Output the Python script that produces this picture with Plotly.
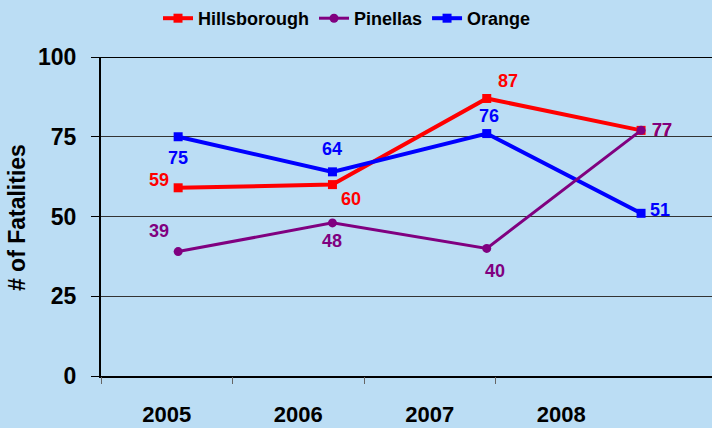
import plotly.graph_objects as go

# ---- data ----
years = ["2005", "2006", "2007", "2008"]
hillsborough = [59, 60, 87, 77]
pinellas = [39, 48, 40, 77]
orange = [75, 64, 76, 51]
y_ticks = [0, 25, 50, 75, 100]
y_title = "# of Fatalities"

# ---- styling ----
BG = "rgb(187,221,244)"
FONT = "Liberation Sans, Arial, sans-serif"
W, H = 712, 428
ML, MR, MT, MB = 101, 0, 55, 52

series = [
    # name, values, color, symbol, line width, legend rank, label offsets (dx, dy)
    ("Hillsborough", hillsborough, "#FF0000", "square", 4, 1,
     [(-19, 8), (19, -14), (21, 17), (21, 0)]),
    ("Orange", orange, "#0000FF", "square", 4, 3,
     [(0, -21), (0, 23), (2, 18), (19, 3)]),
    ("Pinellas", pinellas, "#800080", "circle", 3, 2,
     [(-19, 21), (0, -18), (8, -23), (21, 0)]),
]

xs = list(range(len(years)))
fig = go.Figure()
annotations = []
for name, vals, color, sym, lw, rank, offs in series:
    fig.add_trace(go.Scatter(
        x=xs, y=vals, name=name, mode="lines+markers",
        line=dict(color=color, width=lw),
        marker=dict(symbol=sym, size=9, color=color),
        legendrank=rank, hoverinfo="skip",
    ))
    for xi, v, (dx, dy) in zip(xs, vals, offs):
        annotations.append(dict(
            x=xi, y=v, xref="x", yref="y", text=str(v), showarrow=False,
            xshift=dx, yshift=dy,
            font=dict(family=FONT, size=18, color=color, weight="bold"),
        ))

# second x axis carrying the year labels (label slots are narrower than data slots)
fig.add_trace(go.Scatter(x=xs, y=[None] * len(years), xaxis="x2",
                         showlegend=False, hoverinfo="skip", mode="markers"))

plot_w = W - ML - MR
annotations.append(dict(
    text=y_title, textangle=-90, showarrow=False,
    xref="paper", yref="paper", x=(17 - ML) / plot_w, y=0.495,
    xanchor="center", yanchor="middle",
    font=dict(family=FONT, size=23, color="black", weight="bold"),
))

fig.update_layout(
    width=W, height=H,
    margin=dict(l=ML, r=MR, t=MT, b=MB, pad=0),
    paper_bgcolor=BG, plot_bgcolor=BG,
    showlegend=True,
    legend=dict(
        orientation="h", x=(158 - ML) / plot_w, xanchor="left",
        y=1.1215, yanchor="middle", bgcolor="rgba(0,0,0,0)",
        font=dict(family=FONT, size=18, color="black", weight="bold"),
        itemwidth=30, tracegroupgap=0,
    ),
    xaxis=dict(
        range=[-0.5, -0.5 + plot_w / 154.3], showticklabels=False,
        ticks="", showgrid=False, zeroline=False,
        showline=True, linecolor="black", linewidth=2,
    ),
    xaxis2=dict(
        type="linear", overlaying="x", anchor="y", side="bottom",
        range=[-0.5, -0.5 + plot_w / 131.5],
        tickvals=xs, ticktext=years, ticks="",
        minor=dict(tickvals=[i - 0.5 for i in xs], ticks="outside",
                   ticklen=7, tickwidth=1, tickcolor="#666666", showgrid=False),
        showgrid=False, zeroline=False, showline=False,
        ticklabelstandoff=23,
        tickfont=dict(family=FONT, size=22, color="black", weight="bold"),
    ),
    yaxis=dict(
        range=[0, 100], tickvals=y_ticks, ticks="outside", ticklen=8,
        tickwidth=1, tickcolor="black",
        showgrid=True, gridcolor="#333333", gridwidth=1, zeroline=False,
        showline=True, linecolor="black", linewidth=2,
        ticklabelstandoff=10,
        tickfont=dict(family=FONT, size=23, color="black", weight="bold"),
    ),
    annotations=annotations,
    shapes=[dict(type="line", xref="paper", yref="y", x0=0, x1=1,
                 y0=max(y_ticks), y1=max(y_ticks),
                 line=dict(color="black", width=2))],
)

fig.write_html("out.html", config={"displayModeBar": False},
               post_script="document.body.style.margin='0';")
